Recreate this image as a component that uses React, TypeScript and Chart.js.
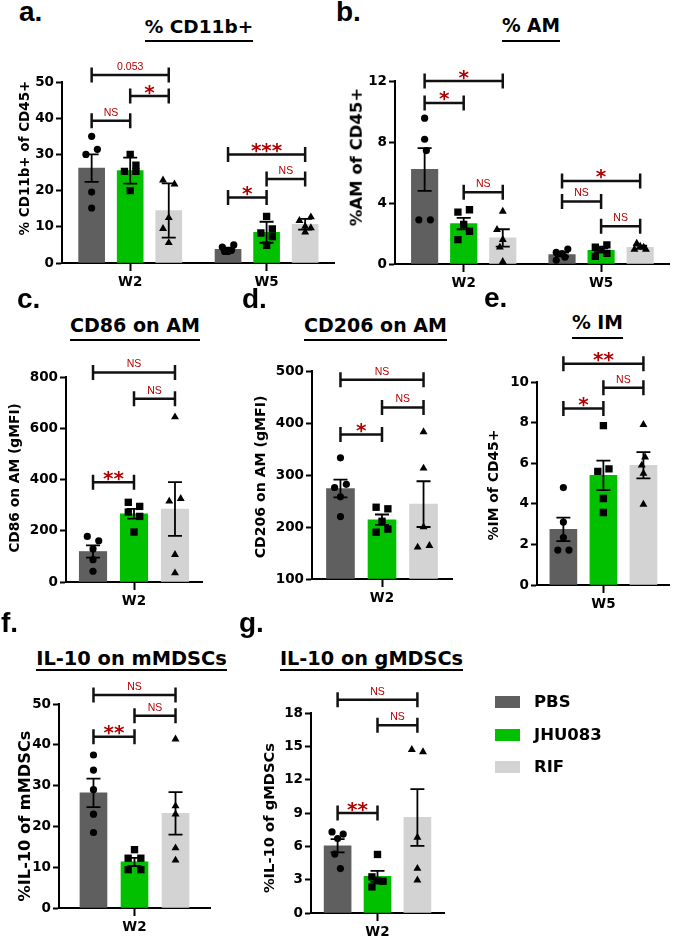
import React, { useEffect, useRef } from 'react';
import { Chart, registerables } from 'chart.js';

Chart.register(...registerables);

const FONT = "'DejaVu Sans', sans-serif";
const LETTER_FONT = "'Liberation Sans', Arial, sans-serif";
const SERIES = ['PBS', 'JHU083', 'RIF'];
const SERIES_COLORS = ['#5f5f5f', '#00c000', '#d3d3d3'];
const POINT_STYLES = ['circle', 'rect', 'triangle'];
const POINT_RADII = [3.6, 5.2, 4.6];
const RED = '#b00000';
const JIT = 0.042;

// ---------- a. % CD11b+ ----------
const A_CATS = ['W2', 'W5'];
const A_YAXIS = [0, 50, 10];
const A_MEANS = [[26.2, 3.8], [25.5, 8.5], [14.5, 10.7]];
const A_ERRS = [[3.8, 0.45], [3.6, 2.9], [7.5, 1.5]];
const A_POINTS = [
  [[35, 31.4, 30, 19.6, 15.2], [5.0, 4.4, 3.5, 3.2, 3.2]],
  [[30, 27, 25.3, 25.3, 20], [12.9, 9.4, 8.3, 7.3, 4.9]],
  [[22.9, 21.8, 12.5, 9.5, 5.6], [12.7, 11.7, 10.1, 9.7, 8.5]],
];
const A_JITTER = [
  [[0, 1, -1, 0, 0], [1, -1, 0.6, -0.6, 0]],
  [[0, 1, -1, 1, 0], [0, 1, -1, 1, 0]],
  [[-1, 1, 0, -1, 0], [1, -1, 0, 1, 0]],
];
const A_BRACKETS = [
  [0, 0, 2, 51.9, '0.053'],
  [0, 1, 2, 46.1, '*'],
  [0, 0, 1, 39.3, 'NS'],
  [1, 0, 2, 30.0, '***'],
  [1, 1, 2, 23.2, 'NS'],
  [1, 0, 1, 18.1, '*'],
];

// ---------- b. % AM ----------
const B_CATS = ['W2', 'W5'];
const B_YAXIS = [0, 12, 4];
const B_MEANS = [[6.2, 0.62], [2.65, 0.9], [1.71, 1.1]];
const B_ERRS = [[1.4, 0.12], [0.37, 0.13], [0.57, 0.1]];
const B_POINTS = [
  [[9.56, 8.18, 7.44, 2.9, 2.9], [0.98, 0.76, 0.68, 0.45, 0.24]],
  [[3.56, 3.4, 2.6, 2.15, 1.6], [1.25, 1.1, 0.95, 0.7, 0.5]],
  [[3.45, 2.25, 1.6, 1.1, 0.15], [1.35, 1.15, 1.1, 0.95, 0.95]],
];
const B_JITTER = [
  [[0, 0, 0.3, -1, 1], [1, -1, 0, 0.5, -1]],
  [[1, -1, 0, 1, -1], [1, -1, 0, 1, -1]],
  [[0, -1, 0, -0.5, 0], [-0.6, 0, 0.6, -1, 1]],
];
const B_BRACKETS = [
  [0, 0, 2, 12.0, '*'],
  [0, 0, 1, 10.56, '*'],
  [0, 1, 2, 4.7, 'NS'],
  [1, 0, 2, 5.45, '*'],
  [1, 0, 1, 4.1, 'NS'],
  [1, 1, 2, 2.47, 'NS'],
];

// ---------- c. CD86 on AM ----------
const C_CATS = ['W2'];
const C_YAXIS = [0, 800, 200];
const C_MEANS = [[119], [266], [285]];
const C_ERRS = [[24], [19], [105]];
const C_POINTS = [[[178, 161, 129, 87, 42]], [[311, 295, 273, 256, 195]], [[644, 325, 315, 107, 35]]];
const C_JITTER = [[[-1, 1, 0, 0, 0]], [[-1, 1, -1, 1, 0]], [[0, 1, -1, 0, 0]]];
const C_BRACKETS = [
  [0, 0, 2, 818, 'NS'],
  [0, 1, 2, 715, 'NS'],
  [0, 0, 1, 389, '**'],
];

// ---------- d. CD206 on AM ----------
const D_CATS = ['W2'];
const D_YAXIS = [100, 500, 100];
const D_MEANS = [[274], [214], [244]];
const D_ERRS = [[17], [10], [44]];
const D_POINTS = [[[333, 282, 276, 258, 220]], [[238, 235, 211, 196, 190]], [[383, 313, 200, 164, 161]]];
const D_JITTER = [[[0, 1, -1, 0, 0]], [[-1, 1, 0, 1, -1]], [[0, 0, 0, 1, -1]]];
const D_BRACKETS = [
  [0, 0, 2, 483, 'NS'],
  [0, 1, 2, 430, 'NS'],
  [0, 0, 1, 378, '*'],
];

// ---------- e. % IM ----------
const E_CATS = ['W5'];
const E_YAXIS = [0, 10, 2];
const E_MEANS = [[2.74], [5.4], [5.9]];
const E_ERRS = [[0.58], [0.73], [0.65]];
const E_POINTS = [[[4.8, 3.1, 2.34, 1.72, 1.72]], [[7.85, 5.72, 5.6, 4.26, 3.57]], [[7.9, 6.3, 5.9, 5.5, 3.97]]];
const E_JITTER = [[[0, 0, 0, -1, 1]], [[0, 1, -1, 0, 0]], [[0, 0.3, -0.3, 0, 0]]];
const E_BRACKETS = [
  [0, 0, 2, 10.9, '**'],
  [0, 1, 2, 9.72, 'NS'],
  [0, 0, 1, 8.69, '*'],
];

// ---------- f. IL-10 on mMDSCs ----------
const F_CATS = ['W2'];
const F_YAXIS = [0, 50, 10];
const F_MEANS = [[28.2], [11.3], [23.2]];
const F_ERRS = [[3.5], [1.0], [5.2]];
const F_POINTS = [[[37.5, 33.8, 29, 23, 18.5]], [[14.3, 12.2, 12.2, 9.4, 9.4]], [[41.4, 25, 23, 14.7, 11.7]]];
const F_JITTER = [[[0, 0, 0, 0, 0]], [[0, -1, 1, -1, 1]], [[0, 0, 0, 0, 0]]];
const F_BRACKETS = [
  [0, 0, 2, 52.2, 'NS'],
  [0, 1, 2, 47.1, 'NS'],
  [0, 0, 1, 42.0, '**'],
];

// ---------- g. IL-10 on gMDSCs ----------
const G_CATS = ['W2'];
const G_YAXIS = [0, 18, 3];
const G_MEANS = [[6.05], [3.3], [8.6]];
const G_ERRS = [[0.6], [0.5], [2.55]];
const G_POINTS = [[[7.3, 7.1, 6.7, 5.3, 4.0]], [[5.27, 3.25, 2.9, 2.86, 2.35]], [[14.7, 14.5, 6.8, 4.0, 2.95]]];
const G_JITTER = [[[-1, 1, 0, -0.5, 0.5]], [[0, -1, 0, 1, -1]], [[-1, 1, 0, 0, 0]]];
const G_BRACKETS = [
  [0, 0, 2, 19.2, 'NS'],
  [0, 1, 2, 16.9, 'NS'],
  [0, 0, 1, 9.0, '**'],
];

const PANELS: any[] = [
  {
    id: 'a', letter: 'a.', title: '% CD11b+', ylabel: '% CD11b+ of CD45+',
    cats: A_CATS, yaxis: A_YAXIS, means: A_MEANS, errs: A_ERRS, points: A_POINTS, jitter: A_JITTER, brackets: A_BRACKETS,
    canvas: { x: 0, y: 50, w: 340, h: 245 }, area: { left: 62, right: 338, top: 82, bottom: 263 },
    catPct: 0.848, barW: 26,
    titlePos: { cx: 199, mid: 26.5, ul: 41, size: 18.5 }, ylabelPos: { cx: 25, cy: 158, size: 13.5 }, letterPos: { x: 19, base: 22 },
  },
  {
    id: 'b', letter: 'b.', title: '% AM', ylabel: '%AM of CD45+',
    cats: B_CATS, yaxis: B_YAXIS, means: B_MEANS, errs: B_ERRS, points: B_POINTS, jitter: B_JITTER, brackets: B_BRACKETS,
    canvas: { x: 340, y: 50, w: 335, h: 245 }, area: { left: 395, right: 673, top: 81, bottom: 264 },
    catPct: 0.853, barW: 26.5,
    titlePos: { cx: 531, mid: 26, ul: 41, size: 18.6 }, ylabelPos: { cx: 357, cy: 157, size: 16.5 }, letterPos: { x: 336, base: 21.7 },
  },
  {
    id: 'c', letter: 'c.', title: 'CD86 on AM', ylabel: 'CD86 on AM (gMFI)',
    cats: C_CATS, yaxis: C_YAXIS, means: C_MEANS, errs: C_ERRS, points: C_POINTS, jitter: C_JITTER, brackets: C_BRACKETS,
    canvas: { x: 0, y: 345, w: 215, h: 270 }, area: { left: 66, right: 202, top: 377, bottom: 582 },
    catPct: 0.904, barW: 27.5,
    titlePos: { cx: 135, mid: 325.5, ul: 340.7, size: 19.1 }, ylabelPos: { cx: 15, cy: 478, size: 13.8 }, letterPos: { x: 17, base: 308.5 },
  },
  {
    id: 'd', letter: 'd.', title: 'CD206 on AM', ylabel: 'CD206 on AM (gMFI)',
    cats: D_CATS, yaxis: D_YAXIS, means: D_MEANS, errs: D_ERRS, points: D_POINTS, jitter: D_JITTER, brackets: D_BRACKETS,
    canvas: { x: 230, y: 345, w: 230, h: 270 }, area: { left: 312, right: 452, top: 371, bottom: 579 },
    catPct: 0.89, barW: 28,
    titlePos: { cx: 375.5, mid: 325.5, ul: 340.7, size: 19 }, ylabelPos: { cx: 259.5, cy: 476.5, size: 14.1 }, letterPos: { x: 242, base: 308.5 },
  },
  {
    id: 'e', letter: 'e.', title: '% IM', ylabel: '%IM of CD45+',
    cats: E_CATS, yaxis: E_YAXIS, means: E_MEANS, errs: E_ERRS, points: E_POINTS, jitter: E_JITTER, brackets: E_BRACKETS,
    canvas: { x: 460, y: 345, w: 215, h: 270 }, area: { left: 537, right: 673, top: 382, bottom: 585 },
    catPct: 0.904, barW: 27,
    titlePos: { cx: 597.5, mid: 323.3, ul: 338.3, size: 18.8 }, ylabelPos: { cx: 493.5, cy: 485, size: 13.9 }, letterPos: { x: 484, base: 308 },
  },
  {
    id: 'f', letter: 'f.', title: 'IL-10 on mMDSCs', ylabel: '%IL-10 of mMDSCs',
    cats: F_CATS, yaxis: F_YAXIS, means: F_MEANS, errs: F_ERRS, points: F_POINTS, jitter: F_JITTER, brackets: F_BRACKETS,
    canvas: { x: 0, y: 675, w: 230, h: 264 }, area: { left: 59, right: 210, top: 704, bottom: 908 },
    catPct: 0.815, barW: 27,
    titlePos: { cx: 131.5, mid: 658.3, ul: 670, size: 19.4 }, ylabelPos: { cx: 25, cy: 816, size: 16.2 }, letterPos: { x: 1, base: 633 },
  },
  {
    id: 'g', letter: 'g.', title: 'IL-10 on gMDSCs', ylabel: '%IL-10 of gMDSCs',
    cats: G_CATS, yaxis: G_YAXIS, means: G_MEANS, errs: G_ERRS, points: G_POINTS, jitter: G_JITTER, brackets: G_BRACKETS,
    canvas: { x: 230, y: 675, w: 230, h: 264 }, area: { left: 311, right: 444, top: 713, bottom: 913 },
    catPct: 0.9, barW: 27,
    titlePos: { cx: 371.5, mid: 658.3, ul: 670, size: 19.3 }, ylabelPos: { cx: 268.5, cy: 818, size: 14.7 }, letterPos: { x: 239, base: 633 },
  },
];

// position of series s within group g, in units of the (hidden) linear x scale
function slotX(p: any, g: number, s: number) {
  return g + (s - 1) * p.catPct / 3;
}

function annotPlugin(p: any) {
  return {
    id: 'annot-' + p.id,
    afterDatasetsDraw(chart: any) {
      const ctx = chart.ctx;
      const ys = chart.scales.y;
      const xp = chart.scales.xp;
      ctx.save();
      // error bars (mean ± error), centred on each bar
      ctx.strokeStyle = '#000';
      ctx.lineWidth = 1.8;
      for (let s = 0; s < 3; s++) {
        const meta = chart.getDatasetMeta(s);
        meta.data.forEach((bar: any, g: number) => {
          const m = p.means[s][g];
          const e = p.errs[s][g];
          const x = bar.x;
          const yt = ys.getPixelForValue(m + e);
          const yb = ys.getPixelForValue(m - e);
          ctx.beginPath();
          ctx.moveTo(x, yt); ctx.lineTo(x, yb);
          ctx.moveTo(x - 7, yt); ctx.lineTo(x + 7, yt);
          ctx.moveTo(x - 7, yb); ctx.lineTo(x + 7, yb);
          ctx.stroke();
        });
      }
      // significance brackets
      p.brackets.forEach((br: any) => {
        const [g, s1, s2, val, label] = br;
        const x1 = xp.getPixelForValue(slotX(p, g, s1));
        const x2 = xp.getPixelForValue(slotX(p, g, s2));
        const yy = ys.getPixelForValue(val);
        ctx.strokeStyle = '#111';
        ctx.lineWidth = 2.5;
        ctx.beginPath();
        ctx.moveTo(x1, yy); ctx.lineTo(x2, yy);
        ctx.moveTo(x1, yy - 7.5); ctx.lineTo(x1, yy + 7.5);
        ctx.moveTo(x2, yy - 7.5); ctx.lineTo(x2, yy + 7.5);
        ctx.stroke();
        ctx.fillStyle = RED;
        ctx.textAlign = 'center';
        ctx.textBaseline = 'alphabetic';
        const xm = (x1 + x2) / 2;
        if (String(label).includes('*')) {
          ctx.font = `bold 20px ${FONT}`;
          ctx.fillText(label, xm, yy + 2.5);
        } else {
          ctx.font = `10.5px ${LETTER_FONT}`;
          ctx.fillText(label, xm, yy - 5);
        }
      });
      ctx.restore();
    },
  };
}

function makeChart(canvas: HTMLCanvasElement, p: any) {
  const n = p.cats.length;
  const [ymin, ymax, ystep] = p.yaxis;
  const cv = p.canvas;
  const L = p.area;
  const datasets: any[] = [];
  for (let s = 0; s < 3; s++) {
    datasets.push({
      type: 'bar',
      label: SERIES[s],
      data: p.means[s].map((m: number, g: number) => ({ x: slotX(p, g, s), y: m })),
      backgroundColor: SERIES_COLORS[s],
      borderWidth: 0,
      grouped: false,
      barThickness: p.barW,
      base: ymin,
      order: 2,
      xAxisID: 'xp',
      yAxisID: 'y',
    });
  }
  for (let s = 0; s < 3; s++) {
    const data: any[] = [];
    p.points[s].forEach((vals: number[], g: number) => {
      vals.forEach((v: number, k: number) => {
        data.push({ x: slotX(p, g, s) + p.jitter[s][g][k] * JIT, y: v });
      });
    });
    datasets.push({
      type: 'scatter',
      label: SERIES[s] + ' points',
      data,
      xAxisID: 'xp',
      yAxisID: 'y',
      pointStyle: POINT_STYLES[s],
      pointRadius: POINT_RADII[s],
      pointBackgroundColor: '#000',
      pointBorderColor: '#000',
      pointBorderWidth: 0,
      showLine: false,
      order: 1,
    });
  }
  const tickFont = { family: FONT, weight: 'bold' as const, size: 13.5 };
  return new Chart(canvas, {
    type: 'bar',
    data: { labels: p.cats, datasets },
    options: {
      responsive: false,
      animation: false,
      events: [],
      layout: { padding: { left: 0, top: L.top - cv.y, right: cv.x + cv.w - L.right, bottom: 0 } },
      plugins: { legend: { display: false }, tooltip: { enabled: false }, title: { display: false } },
      scales: {
        x: {
          type: 'category',
          offset: true,
          grid: { display: true, offset: false, drawOnChartArea: false, drawTicks: true, tickLength: 8, tickWidth: 2, tickColor: '#000' },
          border: { display: true, color: '#000', width: 2 },
          ticks: { color: '#000', font: tickFont, padding: 3, maxRotation: 0 },
          afterFit: (s: any) => { s.height = cv.y + cv.h - L.bottom; },
        },
        xp: {
          type: 'linear', display: false, offset: false, min: -0.5, max: n - 0.5,
          grid: { offset: false },
        },
        y: {
          type: 'linear',
          min: ymin,
          max: ymax,
          grid: { display: true, drawOnChartArea: false, drawTicks: true, tickLength: 6, tickWidth: 2, tickColor: '#000' },
          border: { display: true, color: '#000', width: 2 },
          ticks: { stepSize: ystep, color: '#000', font: tickFont, padding: 2 },
          afterFit: (s: any) => { s.width = L.left - cv.x; },
        },
      },
    } as any,
    plugins: [annotPlugin(p)],
  } as any);
}

const LEGEND_POS = [
  { rectTop: 696, textMid: 702.3 },
  { rectTop: 729, textMid: 734.5 },
  { rectTop: 761, textMid: 767.3 },
];

export default function App() {
  const refs = useRef<(HTMLCanvasElement | null)[]>([]);
  useEffect(() => {
    const charts = PANELS.map((p, i) => makeChart(refs.current[i] as HTMLCanvasElement, p));
    return () => charts.forEach((ch) => ch.destroy());
  }, []);

  return (
    <div style={{ position: 'absolute', left: 0, top: 0, width: 675, height: 939, background: '#fff', overflow: 'hidden' }}>
      {PANELS.map((p, i) => (
        <canvas
          key={'cv' + p.id}
          ref={(el) => { refs.current[i] = el; }}
          width={p.canvas.w}
          height={p.canvas.h}
          style={{ position: 'absolute', left: p.canvas.x, top: p.canvas.y, width: p.canvas.w, height: p.canvas.h }}
        />
      ))}
      {PANELS.map((p) => {
        const t = p.titlePos;
        const top = t.mid - 0.482 * t.size;
        const pb = Math.max(0, t.ul - 1.25 - top - t.size);
        return (
          <div key={'t' + p.id} style={{ position: 'absolute', left: t.cx - 150, width: 300, top, textAlign: 'center' }}>
            <span style={{ display: 'inline-block', fontFamily: FONT, fontWeight: 'bold', fontSize: t.size, lineHeight: t.size + 'px', paddingBottom: pb, borderBottom: '2.5px solid #000', color: '#000', whiteSpace: 'nowrap' }}>
              {p.title}
            </span>
          </div>
        );
      })}
      {PANELS.map((p) => (
        <div key={'l' + p.id} style={{ position: 'absolute', left: p.letterPos.x, top: p.letterPos.base - 23.7, fontFamily: LETTER_FONT, fontWeight: 'bold', fontSize: 28, lineHeight: '28px', color: '#000', whiteSpace: 'nowrap' }}>
          {p.letter}
        </div>
      ))}
      {PANELS.map((p) => (
        <div key={'y' + p.id} style={{ position: 'absolute', left: p.ylabelPos.cx, top: p.ylabelPos.cy, transform: 'translate(-50%, -50%) rotate(-90deg)', fontFamily: FONT, fontWeight: 'bold', fontSize: p.ylabelPos.size, lineHeight: 1, color: '#000', whiteSpace: 'nowrap' }}>
          {p.ylabel}
        </div>
      ))}
      {SERIES.map((s, i) => (
        <React.Fragment key={'lg' + s}>
          <div style={{ position: 'absolute', left: 495, top: LEGEND_POS[i].rectTop, width: 25, height: 12, background: SERIES_COLORS[i] }} />
          <div style={{ position: 'absolute', left: 534, top: LEGEND_POS[i].textMid - 7.95, fontFamily: FONT, fontWeight: 'bold', fontSize: 16.5, lineHeight: '16.5px', color: '#000', whiteSpace: 'nowrap' }}>
            {s}
          </div>
        </React.Fragment>
      ))}
    </div>
  );
}
